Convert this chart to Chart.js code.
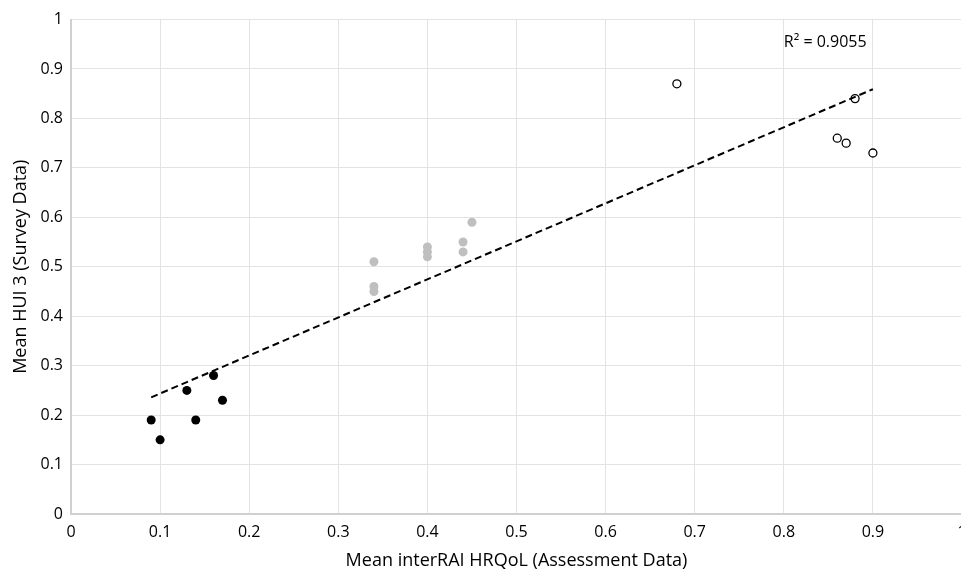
<!DOCTYPE html>
<html>
<head>
<meta charset="utf-8">
<script src="https://cdn.jsdelivr.net/npm/chart.js@4/dist/chart.umd.min.js"></script>
<style>
  html, body { margin: 0; padding: 0; background: #fff; overflow: hidden; }
  #wrap { width: 1000px; height: 572px; }
</style>
</head>
<body>
<div id="wrap"><canvas id="hui" width="1000" height="572"></canvas></div>
<script>
// Low group (black dots)
var lowX = [0.09, 0.10, 0.13, 0.14, 0.16, 0.17];
var lowY = [0.19, 0.15, 0.25, 0.19, 0.28, 0.23];
// Middle group (grey dots)
var midX = [0.34, 0.34, 0.34, 0.40, 0.40, 0.40, 0.44, 0.44, 0.45];
var midY = [0.51, 0.46, 0.45, 0.54, 0.53, 0.52, 0.55, 0.53, 0.59];
// High group (open circles)
var highX = [0.68, 0.86, 0.87, 0.88, 0.90];
var highY = [0.87, 0.76, 0.75, 0.84, 0.73];
// Linear trendline end points
var trendX = [0.09, 0.90];
var trendY = [0.236, 0.859];
var r2Text = "R\u00B2 = 0.9055";
var tickValues = [0, 0.1, 0.2, 0.3, 0.4, 0.5, 0.6, 0.7, 0.8, 0.9, 1];

function toPoints(xs, ys) {
  return xs.map(function (x, i) { return { x: x, y: ys[i] }; });
}

var fam = "'Open Sans', 'Noto Sans', sans-serif";
var font = { family: fam, size: 16 };
var titleFont = { family: fam, size: 18 };

// writes the R² label next to the trendline
var r2Label = {
  id: "r2Label",
  afterDatasetsDraw: function (chart) {
    var c = chart.ctx;
    var xs = chart.scales.x, ys = chart.scales.y;
    c.save();
    c.font = "16px " + fam;
    c.fillStyle = "#000";
    c.textAlign = "left";
    c.textBaseline = "middle";
    c.fillText(r2Text, xs.getPixelForValue(0.8), ys.getPixelForValue(0.953));
    c.restore();
  }
};

function fmt(v) { return String(Math.round(v * 10) / 10); }

var ctx = document.getElementById("hui").getContext("2d");
var huiChart = new Chart(ctx, {
  type: "scatter",
  data: {
    datasets: [
      {
        label: "Trend",
        type: "line",
        data: toPoints(trendX, trendY),
        borderColor: "#000",
        borderWidth: 2,
        borderDash: [7, 4],
        pointRadius: 0,
        fill: false
      },
      {
        label: "Low",
        data: toPoints(lowX, lowY),
        backgroundColor: "#000",
        borderColor: "#000",
        pointRadius: 4.5,
        pointBorderWidth: 0
      },
      {
        label: "Mid",
        data: toPoints(midX, midY),
        backgroundColor: "#bfbfbf",
        borderColor: "#bfbfbf",
        pointRadius: 4.5,
        pointBorderWidth: 0
      },
      {
        label: "High",
        data: toPoints(highX, highY),
        backgroundColor: "#fff",
        borderColor: "#000",
        pointRadius: 4,
        pointBorderWidth: 1.3
      }
    ]
  },
  options: {
    responsive: false,
    animation: false,
    layout: { padding: { top: 19.5, right: 38, left: 0, bottom: 0 } },
    plugins: {
      legend: { display: false },
      tooltip: { enabled: false }
    },
    scales: {
      x: {
        type: "linear",
        min: 0,
        max: 1,
        afterBuildTicks: function (s) { s.ticks = tickValues.map(function (v) { return { value: v }; }); },
        afterFit: function (s) { s.height = 58; },
        grid: { color: "#e3e3e3", lineWidth: 1, drawTicks: false },
        border: { color: "#d0d0d0", width: 2 },
        ticks: { color: "#000", font: font, padding: 9, maxRotation: 0, callback: fmt },
        title: { display: true, text: "Mean interRAI HRQoL (Assessment Data)", color: "#000", font: titleFont, padding: { top: 0, bottom: 0 } }
      },
      y: {
        type: "linear",
        min: 0,
        max: 1,
        afterBuildTicks: function (s) { s.ticks = tickValues.map(function (v) { return { value: v }; }); },
        afterFit: function (s) { s.width = 71; },
        grid: { color: "#e3e3e3", lineWidth: 1, drawTicks: false },
        border: { color: "#d0d0d0", width: 2 },
        ticks: { color: "#000", font: font, padding: 8, callback: fmt },
        title: { display: true, text: "Mean HUI 3 (Survey Data)", color: "#000", font: titleFont, padding: { top: 10, bottom: 0 } }
      }
    }
  },
  plugins: [r2Label]
});
</script>
</body>
</html>
